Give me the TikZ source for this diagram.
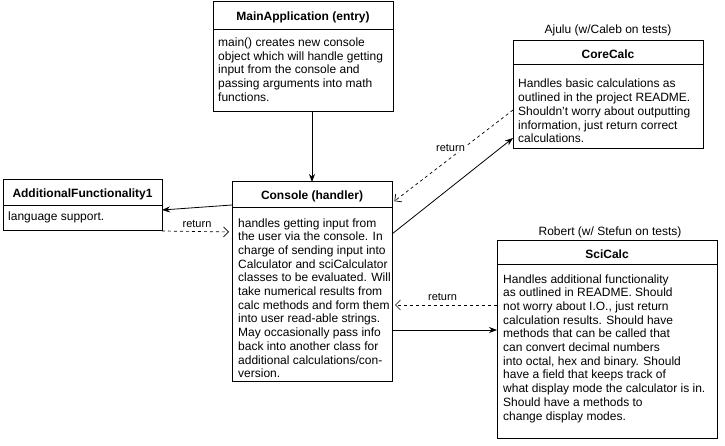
\documentclass[tikz,border=0pt]{standalone}
\usepackage{fontspec}
\setmainfont{Liberation Sans}
\usetikzlibrary{arrows.meta,calc}
\begin{document}
\begin{tikzpicture}[x=1pt,y=-1pt,
  box/.style={draw,line width=1pt,anchor=north west,inner sep=0pt,outer sep=0pt},
  divider/.style={line width=1pt},
  ttl/.style={inner sep=0pt,font=\fontsize{12}{14}\selectfont\bfseries},
  body/.style={anchor=base west,align=left,inner sep=0pt,font=\fontsize{12}{13.7}\selectfont},
  owner/.style={inner sep=0pt,font=\fontsize{12}{14}\selectfont},
  lbl/.style={inner sep=1pt,fill=white,font=\fontsize{11}{13}\selectfont},
  call/.style={line width=0.8pt,-{Stealth[length=8pt,width=6pt]}},
  ret/.style={line width=0.7pt,dash pattern=on 3pt off 3pt,shorten >=3pt,-{Straight Barb[length=5pt,width=10pt]}},
]
\useasboundingbox (0,0) rectangle (725,446);

% boxes
\node[box,minimum width=180pt,minimum height=110pt] (main) at (213,2) {};
\node[box,minimum width=160pt,minimum height=199pt] (console) at (232,182) {};
\node[box,minimum width=159pt,minimum height=51pt] (af) at (3,180) {};
\node[box,minimum width=190pt,minimum height=108pt] (core) at (513,41) {};
\node[box,minimum width=220pt,minimum height=197pt] (sci) at (497,241) {};

% header dividers
\draw[divider] ([yshift=-28pt]main.north west) -- ([yshift=-28pt]main.north east);
\draw[divider] ([yshift=-26pt]console.north west) -- ([yshift=-26pt]console.north east);
\draw[divider] ([yshift=-26pt]af.north west) -- ([yshift=-26pt]af.north east);
\draw[divider] ([yshift=-24pt]core.north west) -- ([yshift=-24pt]core.north east);
\draw[divider] ([yshift=-24pt]sci.north west) -- ([yshift=-24pt]sci.north east);

% titles
\node[ttl] (mainT) at ($(main.north)+(0,15)$) {MainApplication (entry)};
\node[ttl] (consoleT) at ($(console.north)+(0,14)$) {Console (handler)};
\node[ttl] (afT) at ($(af.north)+(0,14)$) {AdditionalFunctionality1};
\node[ttl] (coreT) at ($(core.north)+(0,13)$) {CoreCalc};
\node[ttl] (sciT) at ($(sci.north)+(0,13)$) {SciCalc};

% owners
\node[owner] (coreO) at (608,30) {Ajulu (w/Caleb on tests)};
\node[owner] (sciO) at (610,232) {Robert (w/ Stefun on tests)};

% bodies (anchored at the baseline of their last line)
\node[body] (mainB) at (218,101.3) {main() creates new console\\object which will handle getting\\input from the console and\\passing arguments into math\\functions.};
\node[body] (consoleB) at (238,377.7) {handles getting input from\\the user via the console. In\\charge of sending input into\\Calculator and sciCalculator\\classes to be evaluated. Will\\take numerical results from\\calc methods and form them\\into user read-able strings.\\May occasionally pass info\\back into another class for\\additional calculations/con-\\version.};
\node[body] (afB) at (8,221) {language support.};
\node[body] (coreB) at (518,142.8) {Handles basic calculations as\\outlined in the project README.\\Shouldn't worry about outputting\\information, just return correct\\calculations.};
\node[body] (sciB) at (503,420) {Handles additional functionality\\as outlined in README. Should\\not worry about I.O., just return\\calculation results. Should have\\methods that can be called that\\can convert decimal numbers\\into octal, hex and binary. Should\\have a field that keeps track of\\what display mode the calculator is in.\\Should have a methods to\\change display modes.};

% connectors
\draw[call] (console.north |- main.south) -- (console.north);
\draw[call] ([yshift=-23pt]console.north west) -- ([yshift=-30pt]af.north east);
\draw[ret] (af.south east) -- ([yshift=-50pt]console.north west)
  node[lbl,midway,yshift=8pt] {return};
\draw[call] ([yshift=-52pt]console.north east) -- ([yshift=-97pt]core.north west);
\draw[ret] ([yshift=-69pt]core.north west) -- ([yshift=-21pt]console.north east)
  node[lbl,pos=0.5,xshift=-2pt,yshift=9pt] {return};
\draw[ret] ([yshift=-64pt]sci.north west) -- ([yshift=-123pt]console.north east)
  node[lbl,midway,xshift=-2pt,yshift=8pt] {return};
\draw[call] ([yshift=-148pt]console.north east) -- ([yshift=-89pt]sci.north west);
\end{tikzpicture}
\end{document}
